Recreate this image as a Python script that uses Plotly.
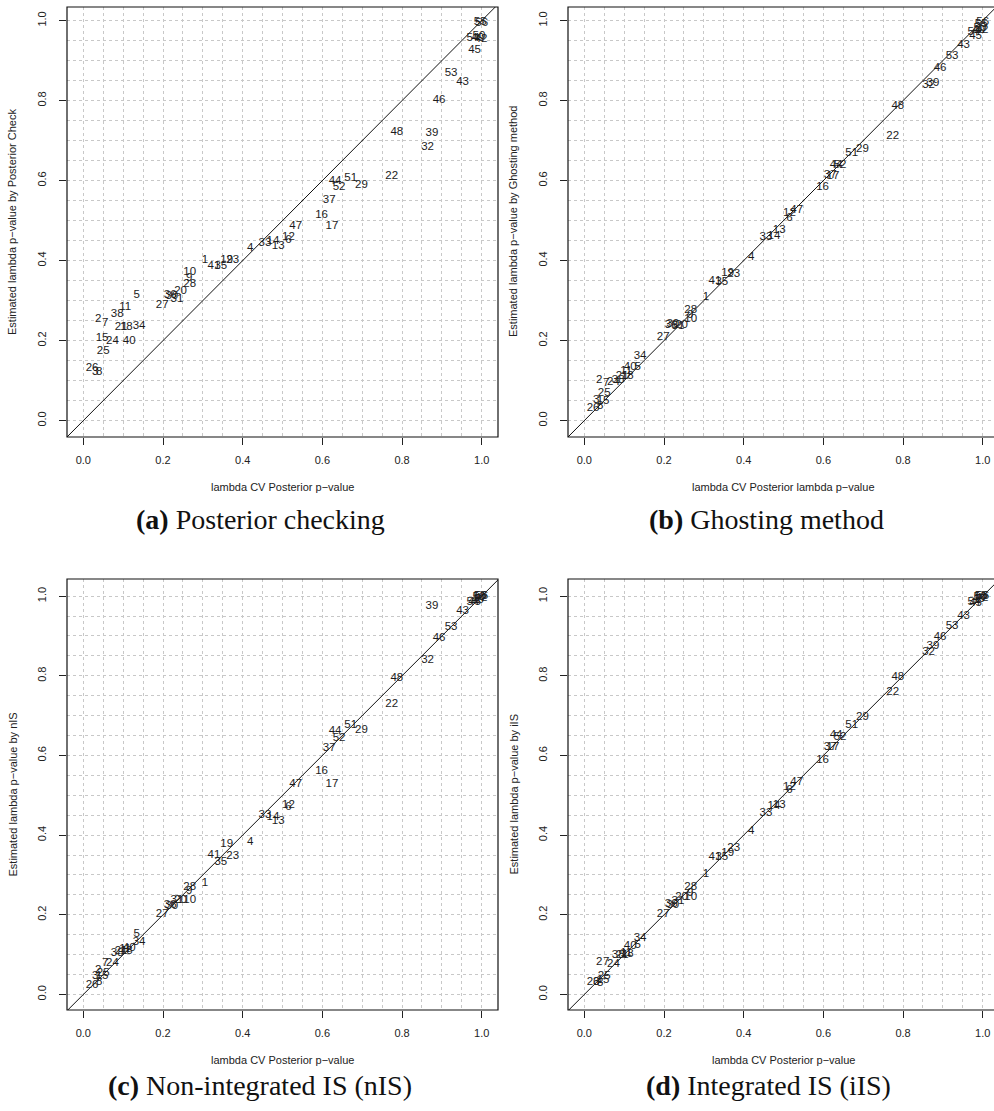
import plotly.graph_objects as go

# Area identifiers (1..56) used as plotting symbols
area_ids = [str(i) for i in range(1, 57)]

# Reference: lambda CV posterior p-value per area
cv_pvalue = [
    0.305, 0.037, 0.030, 0.419, 0.134, 0.515, 0.055, 0.040, 0.266, 0.267,
    0.105, 0.515, 0.489, 0.476, 0.047, 0.598, 0.624, 0.108, 0.360, 0.244,
    0.095, 0.774, 0.375, 0.073, 0.050, 0.022, 0.198, 0.267, 0.698, 0.222,
    0.235, 0.864, 0.456, 0.140, 0.345, 0.218, 0.617, 0.085, 0.875, 0.115,
    0.328, 0.998, 0.952, 0.632, 0.982, 0.893, 0.533, 0.787, 0.990, 0.993,
    0.671, 0.642, 0.923, 0.978, 0.996, 1.000,
]

# Estimated lambda p-values by each method
pc_pvalue = [
    0.402, 0.254, 0.122, 0.431, 0.314, 0.452, 0.243, 0.120, 0.356, 0.370,
    0.283, 0.458, 0.437, 0.449, 0.206, 0.514, 0.487, 0.233, 0.402, 0.323,
    0.233, 0.610, 0.400, 0.198, 0.173, 0.131, 0.289, 0.342, 0.589, 0.310,
    0.303, 0.683, 0.444, 0.237, 0.385, 0.313, 0.552, 0.266, 0.718, 0.198,
    0.385, 0.953, 0.845, 0.598, 0.925, 0.802, 0.487, 0.721, 0.955, 0.962,
    0.606, 0.583, 0.868, 0.957, 0.995, 0.993,
]
ghost_pvalue = [
    0.308, 0.100, 0.052, 0.409, 0.133, 0.506, 0.093, 0.035, 0.264, 0.253,
    0.123, 0.518, 0.477, 0.462, 0.048, 0.583, 0.612, 0.112, 0.368, 0.239,
    0.110, 0.710, 0.367, 0.095, 0.068, 0.031, 0.208, 0.275, 0.678, 0.240,
    0.237, 0.839, 0.458, 0.162, 0.345, 0.238, 0.614, 0.100, 0.843, 0.133,
    0.348, 0.975, 0.939, 0.639, 0.960, 0.881, 0.525, 0.787, 0.975, 0.980,
    0.668, 0.639, 0.912, 0.972, 0.990, 0.995,
]
nis_pvalue = [
    0.280, 0.061, 0.045, 0.383, 0.152, 0.470, 0.079, 0.030, 0.260, 0.237,
    0.115, 0.476, 0.436, 0.445, 0.045, 0.561, 0.528, 0.108, 0.378, 0.236,
    0.110, 0.729, 0.347, 0.079, 0.053, 0.023, 0.202, 0.270, 0.664, 0.221,
    0.238, 0.840, 0.450, 0.131, 0.332, 0.225, 0.618, 0.105, 0.974, 0.116,
    0.350, 0.995, 0.963, 0.662, 0.984, 0.894, 0.528, 0.794, 0.990, 0.997,
    0.677, 0.643, 0.921, 0.984, 1.000, 0.999,
]
iis_pvalue = [
    0.302, 0.080, 0.030, 0.410, 0.124, 0.512, 0.080, 0.028, 0.255, 0.245,
    0.105, 0.520, 0.476, 0.473, 0.035, 0.589, 0.620, 0.102, 0.354, 0.244,
    0.098, 0.760, 0.367, 0.075, 0.046, 0.032, 0.202, 0.270, 0.697, 0.224,
    0.235, 0.859, 0.455, 0.141, 0.344, 0.228, 0.622, 0.100, 0.875, 0.122,
    0.344, 0.995, 0.951, 0.651, 0.983, 0.898, 0.534, 0.796, 0.992, 0.998,
    0.676, 0.647, 0.924, 0.985, 1.000, 0.999,
]

tick_vals = [0.0, 0.2, 0.4, 0.6, 0.8, 1.0]
tick_text = ["0.0", "0.2", "0.4", "0.6", "0.8", "1.0"]

x_titles = [
    "lambda CV Posterior p\u2212value",
    "lambda CV Posterior lambda p\u2212value",
    "lambda CV Posterior p\u2212value",
    "lambda CV Posterior p\u2212value",
]
y_titles = [
    "Estimated lambda p\u2212value by Posterior Check",
    "Estimated lambda p\u2212value by Ghosting method",
    "Estimated lambda p\u2212value by nIS",
    "Estimated lambda p\u2212value by iIS",
]
captions = [
    "<b>(a)</b> Posterior checking",
    "<b>(b)</b> Ghosting method",
    "<b>(c)</b> Non-integrated IS (nIS)",
    "<b>(d)</b> Integrated IS (iIS)",
]
estimates = [pc_pvalue, ghost_pvalue, nis_pvalue, iis_pvalue]

# y = x reference line
ident = [-0.2, 1.2]

W, H = 994, 1111
SANS = "Liberation Sans, Arial, sans-serif"
SERIF = "Liberation Serif, Times New Roman, serif"

# panel frames in pixels: left, top, right, bottom
frames = [(67, 7, 498, 437), (568, 7, 999, 437), (67, 579, 498, 1010), (568, 579, 999, 1010)]
y_ranges = [(-0.041, 1.034), (-0.041, 1.034), (-0.039, 1.043), (-0.039, 1.043)]
caption_pos = [(260, 519), (766, 519), (260, 1085), (768, 1085)]
px_per_unit = 398.4
x0 = -0.041

fig = go.Figure()
layout = dict(
    width=W, height=H, margin=dict(l=0, r=0, t=0, b=0),
    paper_bgcolor="white", plot_bgcolor="white", showlegend=False,
    shapes=[], annotations=[],
)

grid_style = dict(gridcolor="#c8c8c8", griddash="3px,3px", gridwidth=1)

for k in range(4):
    l, t, r, b = frames[k]
    rv = min(r, W)
    sfx = "" if k == 0 else str(k + 1)
    xa = "x" + sfx
    ya = "y" + sfx
    axis_common = dict(
        tickvals=tick_vals, ticktext=tick_text, ticks="outside", ticklen=7,
        tickwidth=1, tickcolor="#222", showline=False, zeroline=False,
        showgrid=True, tickfont=dict(family=SANS, size=11, color="#222"),
        minor=dict(dtick=0.05, tick0=0, showgrid=True, ticks="", **grid_style),
        fixedrange=True, **grid_style,
    )
    layout["xaxis" + sfx] = dict(
        domain=[l / W, rv / W], anchor=ya,
        range=[x0, x0 + (rv - l) / px_per_unit],
        ticklabelstandoff=6, **axis_common,
    )
    layout["yaxis" + sfx] = dict(
        domain=[1 - b / H, 1 - t / H], anchor=xa,
        range=list(y_ranges[k]), tickangle=-90,
        ticklabelstandoff=9, **axis_common,
    )

    fig.add_trace(go.Scatter(
        x=ident, y=ident, mode="lines", xaxis=xa, yaxis=ya,
        line=dict(color="#111", width=1), hoverinfo="skip",
    ))
    fig.add_trace(go.Scatter(
        x=cv_pvalue, y=estimates[k], text=area_ids, mode="text",
        xaxis=xa, yaxis=ya, textposition="middle center",
        textfont=dict(family=SANS, size=11.5, color="#1c1c1c"),
    ))

    # plot frame
    layout["shapes"].append(dict(
        type="rect", xref="paper", yref="paper",
        x0=l / W, x1=r / W, y0=1 - b / H, y1=1 - t / H,
        line=dict(color="#111", width=1.2), fillcolor="rgba(0,0,0,0)",
        layer="above",
    ))
    # axis titles
    layout["annotations"].append(dict(
        text=x_titles[k], xref="paper", yref="paper",
        x=(l + r) / 2 / W, y=1 - (b + 50) / H, showarrow=False,
        xanchor="center", yanchor="middle",
        font=dict(family=SANS, size=11, color="#222"),
    ))
    layout["annotations"].append(dict(
        text=y_titles[k], xref="paper", yref="paper",
        x=(l - 55) / W, y=1 - (t + b) / 2 / H, showarrow=False,
        textangle=-90, xanchor="center", yanchor="middle",
        font=dict(family=SANS, size=11, color="#222"),
    ))
    cx, cy = caption_pos[k]
    layout["annotations"].append(dict(
        text=captions[k], xref="paper", yref="paper",
        x=cx / W, y=1 - cy / H, showarrow=False,
        xanchor="center", yanchor="middle",
        font=dict(family=SERIF, size=28, color="#111"),
    ))

fig.update_layout(**layout)
fig.write_html("out.html")
